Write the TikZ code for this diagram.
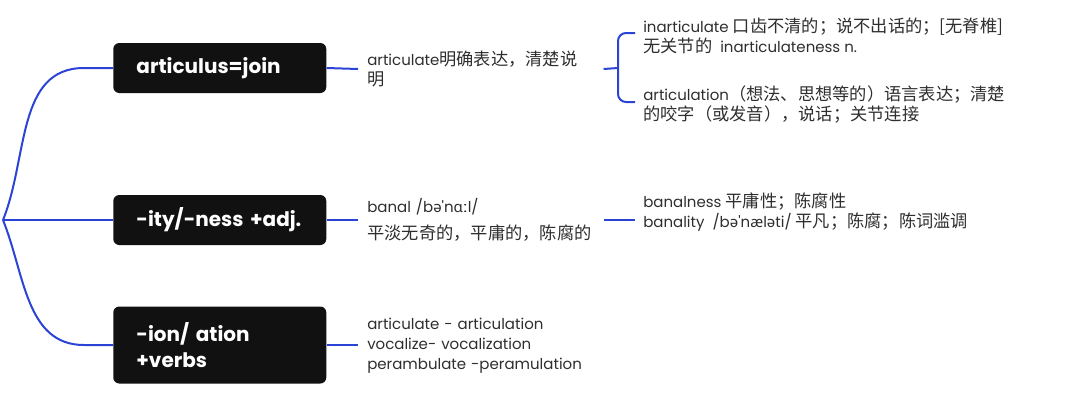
\documentclass[tikz,border=0pt]{standalone}
\usepackage{fontspec}
\setmainfont{Poppins}
\newfontfamily\plainpop{Poppins}[Ligatures=TeXOff]
\newfontfamily\cjk{Noto Sans CJK SC}[Scale=1.15]
\newfontfamily\ipafont{Noto Sans}
\newcommand{\zh}[1]{{\cjk #1}}
\newcommand{\ipa}[1]{{\ipafont #1}}
\newcommand{\stress}{{\plainpop '}}
\definecolor{branch}{HTML}{2B44D6}
\definecolor{ink}{HTML}{2E2E2E}
\definecolor{boxfill}{HTML}{111111}
\tikzset{
    topic/.style={draw=none, fill=boxfill, rounded corners=4.5pt, text=white,
        font=\fontsize{15}{19.5}\selectfont\bfseries, anchor=west, align=left,
        minimum width=159.75pt, minimum height=37.5pt, inner xsep=17.25pt, text width=125pt},
    note/.style={text=ink, font=\fontsize{11.25}{15}\selectfont, anchor=west, align=left,
        inner xsep=6.75pt, inner ysep=0pt, text width=170.25pt},
    sub/.style={text=ink, font=\fontsize{11.25}{15}\selectfont, align=left,
        inner xsep=6pt, inner ysep=0pt},
    link/.style={draw=branch, line width=1.5pt}
}
\begin{document}
\begin{tikzpicture}[x=0.75pt, y=-0.75pt]
    \useasboundingbox (0,0) rectangle (1080,404);
    \coordinate (root) at (3,220);
    % main topics
    \node[topic] (joinbox) at (113,68) {articulus=join};
    \node[topic] (nessbox) at (113,220) {-ity/-ness +adj.};
    \node[topic, minimum height=57.75pt] (ionbox) at (113,345) {-ion/ ation\\+verbs};
    \draw[link] (root) to[out=68, in=180] (84,68) -- (joinbox.west);
    \draw[link] (root) -- (nessbox.west);
    \draw[link] (root) to[out=-68, in=180] (84,345) -- (ionbox.west);
    % second level
    \node[note] (artnote) at (358,69) {articulate\zh{明确表达，清楚说}\\\zh{明}};
    \node[note] (banalnote) at (358,220) {banal /b\ipa{ə}\stress n\ipa{ɑː}l/\\[5pt]\zh{平淡无奇的，平庸的，陈腐的}};
    \node[note] (ionnote) at (358,346) {articulate - articulation\\vocalize- vocalization\\perambulate -peramulation};
    \draw[link] (joinbox.east) -- (artnote.west);
    \draw[link] (nessbox.east) -- (banalnote.west);
    \draw[link] (ionbox.east) -- (ionnote.west |- ionbox.east);
    % third level
    \node[sub, anchor=west] (inartnote) at (635,36) {inarticulate \zh{口齿不清的；说不出话的；[无脊椎]}\\\zh{无关节的}\ \ inarticulateness n.};
    \node[sub, anchor=west] (artionnote) at (635,105) {articulation\zh{（想法、思想等的）语言表达；清楚}\\\zh{的咬字（或发音），说话；关节连接}};
    \coordinate (fork) at (618,68);
    \draw[link] (artnote.east) -- (fork);
    \draw[link, rounded corners=6pt] (inartnote.west |- 0,33) -| (fork) |- (artionnote.west |- 0,102);
    \node[sub, anchor=south west] (banalsub) at (635,232) {banalness \zh{平庸性；陈腐性}\\banality\ \ /b\ipa{ə}\stress n\ipa{æ}l\ipa{ə}ti/ \zh{平凡；陈腐；陈词滥调}};
    \draw[link] (banalnote.east) -- (banalnote.east -| banalsub.west);
\end{tikzpicture}
\end{document}
